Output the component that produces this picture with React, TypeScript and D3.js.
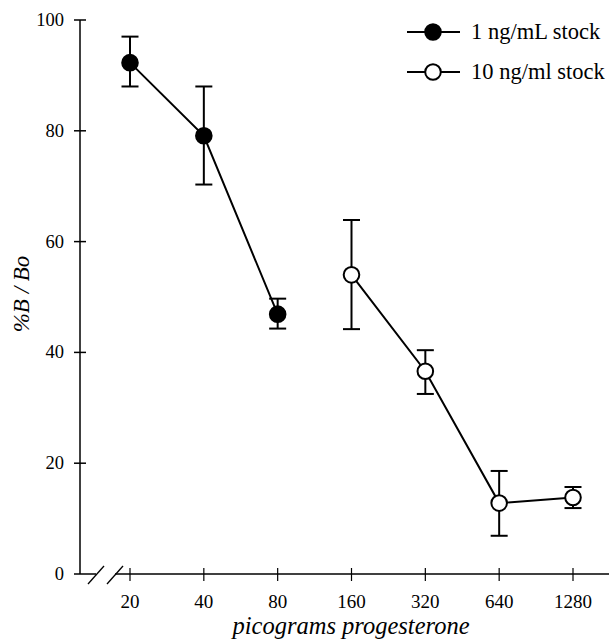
import { useRef, useEffect } from 'react';
import * as d3 from 'd3';

const doses = [20, 40, 80, 160, 320, 640, 1280];
const yTicks = [0, 20, 40, 60, 80, 100];

const stock1Dose = [20, 40, 80];
const stock1Mean = [92.3, 79.1, 46.9];
const stock1Hi = [97.0, 88.0, 49.7];
const stock1Lo = [88.0, 70.3, 44.3];

const stock10Dose = [160, 320, 640, 1280];
const stock10Mean = [54.0, 36.6, 12.8, 13.8];
const stock10Hi = [63.9, 40.4, 18.6, 15.7];
const stock10Lo = [44.2, 32.5, 6.9, 11.9];

const legendLabels = ['1 ng/mL stock', '10 ng/ml stock'];

const W = 609;
const H = 642;

export default function App() {
  const svgRef = useRef<SVGSVGElement>(null);

  useEffect(() => {
    document.body.style.margin = '0';
    if (!svgRef.current) return;
    const svg = d3.select(svgRef.current);
    svg.selectAll('*').remove();

    const x = d3.scaleLog().base(2).domain([20, 1280]).range([130, 573]);
    const y = d3.scaleLinear().domain([0, 100]).range([574, 20]);
    const axisX = 80;
    const font = '"Liberation Serif", "Times New Roman", serif';

    // y axis
    svg.append('line')
      .attr('x1', axisX).attr('x2', axisX)
      .attr('y1', y(100)).attr('y2', y(0))
      .attr('stroke', '#000').attr('stroke-width', 1.5);
    yTicks.forEach((t) => {
      svg.append('line')
        .attr('x1', axisX - 6).attr('x2', t === 0 ? axisX : axisX + 6)
        .attr('y1', y(t)).attr('y2', y(t))
        .attr('stroke', '#000').attr('stroke-width', 1.5);
      svg.append('text')
        .attr('x', 64).attr('y', y(t))
        .attr('text-anchor', 'end')
        .attr('dominant-baseline', 'central')
        .attr('font-family', font)
        .attr('font-size', 18.5)
        .text(t);
    });

    // x axis with break
    svg.append('line')
      .attr('x1', axisX).attr('x2', 96)
      .attr('y1', y(0)).attr('y2', y(0))
      .attr('stroke', '#000').attr('stroke-width', 1.5);
    svg.append('line')
      .attr('x1', 115).attr('x2', W)
      .attr('y1', y(0)).attr('y2', y(0))
      .attr('stroke', '#000').attr('stroke-width', 1.5);
    [96, 115].forEach((cx) => {
      svg.append('line')
        .attr('x1', cx - 8).attr('x2', cx + 8)
        .attr('y1', y(0) + 10).attr('y2', y(0) - 8)
        .attr('stroke', '#000').attr('stroke-width', 1.3);
    });
    doses.forEach((d) => {
      svg.append('line')
        .attr('x1', x(d)).attr('x2', x(d))
        .attr('y1', y(0) - 6).attr('y2', y(0) + 7)
        .attr('stroke', '#000').attr('stroke-width', 1.2);
      svg.append('text')
        .attr('x', x(d)).attr('y', 608)
        .attr('text-anchor', 'middle')
        .attr('font-family', font)
        .attr('font-size', 19)
        .text(d);
    });

    // axis titles
    svg.append('text')
      .attr('x', 351).attr('y', 634)
      .attr('text-anchor', 'middle')
      .attr('font-family', font)
      .attr('font-style', 'italic')
      .attr('font-size', 24.5)
      .text('picograms progesterone');
    svg.append('text')
      .attr('transform', `translate(21,294) rotate(-90)`)
      .attr('text-anchor', 'middle')
      .attr('dominant-baseline', 'central')
      .attr('font-family', font)
      .attr('font-style', 'italic')
      .attr('font-size', 23)
      .text('%B / Bo');

    const series = [
      { dose: stock1Dose, mean: stock1Mean, hi: stock1Hi, lo: stock1Lo, fill: '#000' },
      { dose: stock10Dose, mean: stock10Mean, hi: stock10Hi, lo: stock10Lo, fill: '#fff' },
    ];

    series.forEach((s) => {
      const pts = s.dose.map((d, i) => [x(d), y(s.mean[i])] as [number, number]);
      svg.append('path')
        .attr('d', d3.line()(pts))
        .attr('fill', 'none')
        .attr('stroke', '#000')
        .attr('stroke-width', 2);
      s.dose.forEach((d, i) => {
        const cx = x(d);
        svg.append('line')
          .attr('x1', cx).attr('x2', cx)
          .attr('y1', y(s.hi[i])).attr('y2', y(s.lo[i]))
          .attr('stroke', '#000').attr('stroke-width', 2);
        [s.hi[i], s.lo[i]].forEach((v) => {
          svg.append('line')
            .attr('x1', cx - 8.5).attr('x2', cx + 8.5)
            .attr('y1', y(v)).attr('y2', y(v))
            .attr('stroke', '#000').attr('stroke-width', 2);
        });
        svg.append('circle')
          .attr('cx', cx).attr('cy', y(s.mean[i]))
          .attr('r', 7.8)
          .attr('fill', s.fill)
          .attr('stroke', '#000')
          .attr('stroke-width', 2);
      });
    });

    // legend
    legendLabels.forEach((lab, i) => {
      const ly = 32 + i * 40;
      svg.append('line')
        .attr('x1', 407).attr('x2', 460)
        .attr('y1', ly).attr('y2', ly)
        .attr('stroke', '#000').attr('stroke-width', 2);
      svg.append('circle')
        .attr('cx', 433).attr('cy', ly).attr('r', 7.8)
        .attr('fill', series[i].fill)
        .attr('stroke', '#000').attr('stroke-width', 2);
      svg.append('text')
        .attr('x', 471).attr('y', ly + 7)
        .attr('font-family', font)
        .attr('font-size', 22.5)
        .text(lab);
    });
  }, []);

  return <svg ref={svgRef} width={W} height={H} style={{ display: 'block', background: '#fff' }} />;
}
